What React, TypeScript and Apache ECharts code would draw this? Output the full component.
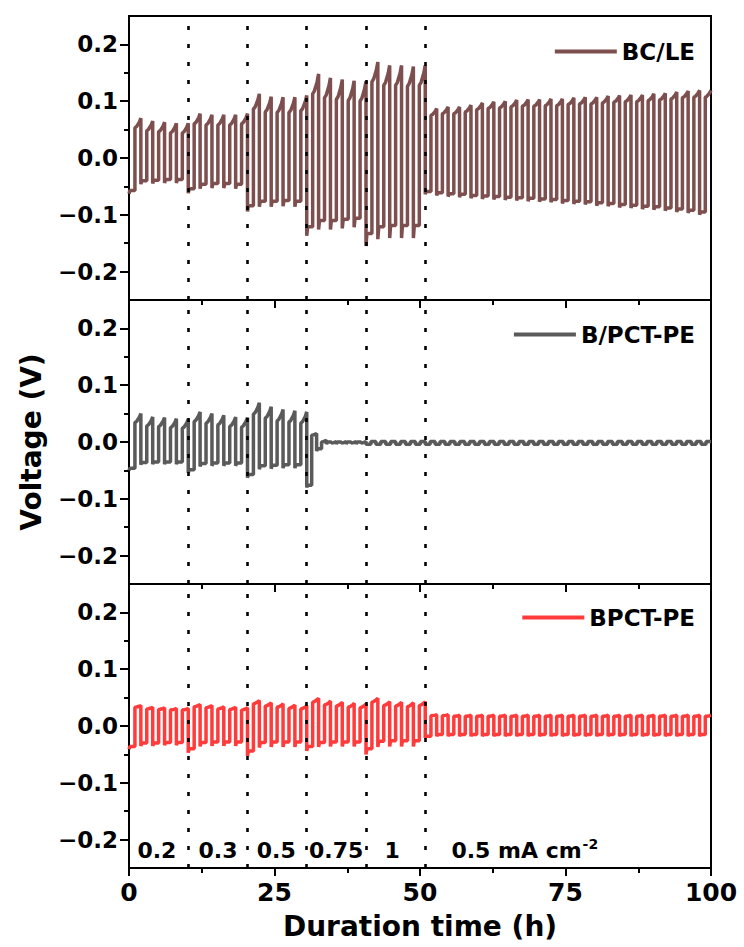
import React, { useEffect, useRef } from "react";
import * as echarts from "echarts";

// ---- time segments (h) and current densities ----
const segStart = [0, 10.18, 20.36, 30.54, 40.72, 50.9];
const segEnd = [10.18, 20.36, 30.54, 40.72, 50.9, 100];
const dividers = [10.18, 20.36, 30.54, 40.72, 50.9];
const rateLabels = ["0.2", "0.3", "0.5", "0.75", "1", "0.5 mA cm"];
const rateLabelX = [4.8, 15.3, 25.3, 35.6, 45.2, 68.0];
const rateLabelY = -0.219;

const xTicks = [0, 25, 50, 75, 100];
const yMajor = [-0.2, -0.1, 0, 0.1, 0.2];
const yMinor = [-0.15, -0.05, 0.05, 0.15];

// ---- BC/LE (cycle peak / trough voltages, V) ----
const bcleCycles = [5, 5, 5, 5, 5, 25];
const bcleHigh = [
  0.070, 0.065, 0.063, 0.061, 0.061,
  0.078, 0.076, 0.076, 0.076, 0.078,
  0.113, 0.108, 0.107, 0.107, 0.110,
  0.148, 0.141, 0.138, 0.136, 0.135,
  0.169, 0.163, 0.163, 0.161, 0.163,
  0.087, 0.090, 0.090, 0.093, 0.097, 0.099, 0.100, 0.102, 0.103, 0.103, 0.104, 0.104, 0.106,
  0.107, 0.107, 0.109, 0.110, 0.111, 0.111, 0.113, 0.114, 0.116, 0.118, 0.119, 0.119,
];
const bcleLow = [
  -0.063, -0.046, -0.045, -0.044, -0.044,
  -0.062, -0.054, -0.053, -0.053, -0.054,
  -0.094, -0.086, -0.086, -0.085, -0.086,
  -0.137, -0.126, -0.126, -0.124, -0.122,
  -0.155, -0.143, -0.141, -0.141, -0.141,
  -0.064, -0.066, -0.068, -0.069, -0.071, -0.072, -0.073, -0.074, -0.075, -0.076, -0.077, -0.078, -0.080,
  -0.081, -0.082, -0.084, -0.085, -0.087, -0.088, -0.090, -0.091, -0.093, -0.095, -0.097, -0.100,
];
const bclePosShoulder = [0.017, 0.018, 0.027, 0.035, 0.035, 0.012];
const bcleNegShoulder = [0.006, 0.008, 0.010, 0.016, 0.022, 0.005];

// ---- B/PCT-PE ----
const bpctCycles = [5, 5, 5, 6, 6, 29];
const bpctHigh = [
  0.050, 0.044, 0.043, 0.041, 0.040,
  0.053, 0.050, 0.047, 0.044, 0.043,
  0.069, 0.062, 0.057, 0.055, 0.053,
  0.015, 0.003, 0.001, 0.001, 0.001, 0.001,
  0.001, 0.001, 0.001, 0.001, 0.001, 0.001,
  0.001, 0.001, 0.001, 0.001, 0.001, 0.001, 0.001, 0.001, 0.001, 0.001, 0.001, 0.001, 0.001, 0.001, 0.001,
  0.001, 0.001, 0.001, 0.001, 0.001, 0.001, 0.001, 0.001, 0.001, 0.001, 0.001, 0.001, 0.001, 0.001,
];
const bpctLow = [
  -0.050, -0.040, -0.039, -0.039, -0.039,
  -0.054, -0.043, -0.042, -0.042, -0.042,
  -0.063, -0.048, -0.047, -0.046, -0.046,
  -0.080, -0.016, -0.004, -0.004, -0.004, -0.004,
  -0.004, -0.004, -0.004, -0.004, -0.004, -0.004,
  -0.004, -0.004, -0.004, -0.004, -0.004, -0.004, -0.004, -0.004, -0.004, -0.004, -0.004, -0.004, -0.004, -0.004, -0.004,
  -0.004, -0.004, -0.004, -0.004, -0.004, -0.004, -0.004, -0.004, -0.004, -0.004, -0.004, -0.004, -0.004, -0.004,
];
const bpctPosShoulder = [0.016, 0.017, 0.020, 0.003, 0, 0];
const bpctNegShoulder = [0.004, 0.005, 0.006, 0.004, 0, 0];

// ---- BPCT-PE ----
const pctCycles = [5, 5, 5, 5, 5, 25];
const pctHigh = [
  0.036, 0.033, 0.032, 0.031, 0.031,
  0.038, 0.036, 0.034, 0.033, 0.032,
  0.045, 0.041, 0.039, 0.037, 0.036,
  0.049, 0.044, 0.042, 0.040, 0.039,
  0.049, 0.043, 0.042, 0.041, 0.043,
  0.020, 0.020, 0.019, 0.019, 0.019, 0.019, 0.019, 0.019, 0.019, 0.019, 0.019, 0.019, 0.019,
  0.019, 0.019, 0.019, 0.019, 0.019, 0.019, 0.019, 0.019, 0.019, 0.019, 0.019, 0.019,
];
const pctLow = [
  -0.041, -0.035, -0.035, -0.034, -0.034,
  -0.047, -0.036, -0.035, -0.035, -0.035,
  -0.053, -0.038, -0.037, -0.037, -0.037,
  -0.044, -0.037, -0.036, -0.036, -0.036,
  -0.050, -0.037, -0.036, -0.036, -0.036,
  -0.021, -0.018, -0.018, -0.018, -0.018, -0.018, -0.018, -0.018, -0.018, -0.018, -0.018, -0.018, -0.018,
  -0.018, -0.018, -0.018, -0.018, -0.018, -0.018, -0.018, -0.018, -0.018, -0.018, -0.018, -0.018,
];
const pctPosShoulder = [0.003, 0.004, 0.006, 0.007, 0.007, 0.002];
const pctNegShoulder = [0.005, 0.007, 0.009, 0.008, 0.010, 0.003];

const FONT = "DejaVu Sans";

function buildWave(
  cycles: number[],
  hi: number[],
  lo: number[],
  posSh: number[],
  negSh: number[]
): [number, number][] {
  const pts: [number, number][] = [];
  let k = 0;
  for (let s = 0; s < segStart.length; s++) {
    const n = cycles[s];
    const period = (segEnd[s] - segStart[s]) / n;
    const half = period / 2;
    for (let c = 0; c < n; c++, k++) {
      const t0 = segStart[s] + c * period;
      const tm = t0 + half;
      const t1 = t0 + period;
      const h = hi[k];
      const l = lo[k];
      const ps = posSh[s];
      const ns = negSh[s];
      pts.push([t0, l], [t0 + 0.15 * half, l + ns], [tm, l + ns]);
      pts.push(
        [tm, h - ps],
        [tm + 0.3 * half, h - 0.85 * ps],
        [tm + 0.75 * half, h - 0.4 * ps],
        [t1, h]
      );
    }
  }
  return pts;
}

const fmtY = (v: number) => {
  const r = Math.round(v * 10) / 10;
  if (Math.abs(r) < 1e-9) return "0.0";
  return (r < 0 ? "\u2212" : "") + Math.abs(r).toFixed(1);
};

export default function App() {
  const ref = useRef<HTMLDivElement>(null);
  useEffect(() => {
    if (!ref.current) return;
    const chart = echarts.init(ref.current, undefined, { renderer: "svg" });
    const grids = [16, 300, 584].map((top) => ({
      left: 129,
      right: 33,
      top,
      height: 284,
      show: true,
      borderColor: "#000",
      borderWidth: 2,
      backgroundColor: "transparent",
      containLabel: false,
    }));
    const axisLineStyle = { color: "#000", width: 2 };
    const xAxes = [0, 1, 2].map((g) => ({
      gridIndex: g,
      type: "value",
      min: 0,
      max: 100,
      interval: 25,
      axisLine: { show: true, onZero: false, lineStyle: axisLineStyle },
      axisTick: { show: true, length: 8, lineStyle: axisLineStyle },
      minorTick: { show: true, splitNumber: 2, length: 5, lineStyle: axisLineStyle },
      splitLine: { show: false },
      minorSplitLine: { show: false },
      axisLabel: {
        show: g === 2,
        customValues: xTicks,
        fontFamily: FONT,
        fontWeight: "bold",
        fontSize: 25,
        color: "#000",
        margin: 12,
      },
      name: g === 2 ? "Duration time (h)" : "",
      nameLocation: "middle",
      nameGap: 44,
      nameTextStyle: { fontFamily: FONT, fontWeight: "bold", fontSize: 28, color: "#000" },
    }));
    const yAxes: any[] = [];
    [0, 1, 2].forEach((g) => {
      yAxes.push({
        gridIndex: g,
        type: "value",
        position: "left",
        min: -0.25,
        max: 0.25,
        interval: 0.05,
        axisLine: { show: true, onZero: false, lineStyle: axisLineStyle },
        axisTick: { show: true, length: 9, customValues: yMajor, lineStyle: axisLineStyle },
        axisLabel: {
          customValues: yMajor,
          formatter: fmtY,
          fontFamily: FONT,
          fontWeight: "bold",
          fontSize: 23,
          color: "#000",
          margin: 11,
        },
        splitLine: { show: false },
        name: g === 1 ? "Voltage (V)" : "",
        nameLocation: "middle",
        nameGap: 84,
        nameTextStyle: { fontFamily: FONT, fontWeight: "bold", fontSize: 28, color: "#000" },
      });
      yAxes.push({
        gridIndex: g,
        type: "value",
        position: "left",
        min: -0.25,
        max: 0.25,
        interval: 0.05,
        axisLine: { show: false },
        axisTick: { show: true, length: 5, customValues: yMinor, lineStyle: axisLineStyle },
        axisLabel: { show: false },
        splitLine: { show: false },
      });
    });

    const markLine = {
      silent: true,
      symbol: ["none", "none"],
      label: { show: false },
      lineStyle: { color: "#000", width: 2.6, type: [4, 14] },
      emphasis: { disabled: true },
      data: dividers.map((x) => ({ xAxis: x })),
    };

    const colors = ["#7E4F4F", "#5A5A5A", "#FF3B3B"];
    const names = ["BC/LE", "B/PCT-PE", "BPCT-PE"];
    const waves = [
      buildWave(bcleCycles, bcleHigh, bcleLow, bclePosShoulder, bcleNegShoulder),
      buildWave(bpctCycles, bpctHigh, bpctLow, bpctPosShoulder, bpctNegShoulder),
      buildWave(pctCycles, pctHigh, pctLow, pctPosShoulder, pctNegShoulder),
    ];

    const series: any[] = waves.map((data, i) => ({
      type: "line",
      name: names[i],
      xAxisIndex: i,
      yAxisIndex: i * 2,
      data,
      showSymbol: false,
      symbol: "none",
      clip: true,
      lineStyle: { color: colors[i], width: 3.5 },
      itemStyle: { color: colors[i] },
      markLine,
      z: 2,
    }));
    series[2].markPoint = {
      silent: true,
      symbol: "circle",
      symbolSize: 0,
      data: rateLabels.map((txt, i) => ({
        coord: [rateLabelX[i], rateLabelY],
        name: txt,
      })),
      label: {
        show: true,
        position: "inside",
        color: "#000",
        formatter: (p: any) =>
          p.name.indexOf("mA") >= 0 ? `{b|${p.name}}{s|-2}` : `{b|${p.name}}`,
        rich: {
          b: { fontFamily: FONT, fontWeight: "bold", fontSize: 22, color: "#000", lineHeight: 26 },
          s: {
            fontFamily: FONT,
            fontWeight: "bold",
            fontSize: 14,
            color: "#000",
            lineHeight: 15,
            verticalAlign: "top",
            padding: [0, 0, 10, 1],
          },
        },
      },
    };

    const legendTops = [35, 318, 601];
    const legend = names.map((n, i) => ({
      data: [n],
      right: 44,
      top: legendTops[i],
      icon: "rect",
      itemWidth: 62,
      itemHeight: 4,
      itemGap: 6,
      selectedMode: false,
      textStyle: { fontFamily: FONT, fontWeight: "bold", fontSize: 23, color: "#000" },
    }));

    chart.setOption({
      animation: false,
      backgroundColor: "#fff",
      grid: grids,
      xAxis: xAxes,
      yAxis: yAxes,
      legend,
      series,
    });
    return () => chart.dispose();
  }, []);
  return (
    <div
      ref={ref}
      style={{ position: "fixed", left: 0, top: 0, width: 744, height: 947, background: "#fff" }}
    />
  );
}
